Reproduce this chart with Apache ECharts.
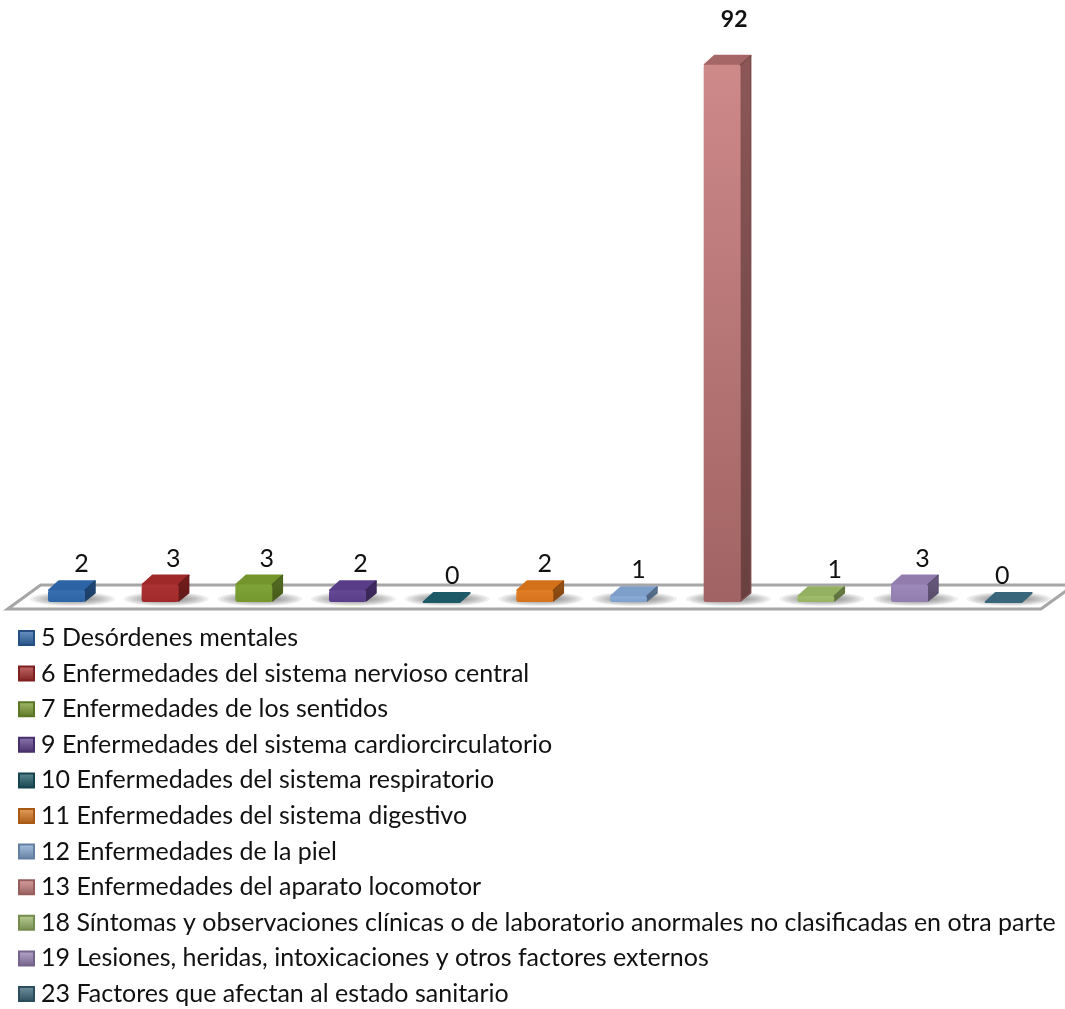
<!DOCTYPE html>
<html><head><meta charset="utf-8">
<style>html,body{margin:0;padding:0;background:#fff}#c{width:1065px;height:1009px}</style>
<script src="https://cdn.jsdelivr.net/npm/echarts@6/dist/echarts.min.js"></script>
</head><body><div id="c"></div>
<script>
const categories = [
  "5 Desórdenes mentales",
  "6 Enfermedades del sistema nervioso central",
  "7 Enfermedades de los sentidos",
  "9 Enfermedades del sistema cardiorcirculatorio",
  "10 Enfermedades del sistema respiratorio",
  "11 Enfermedades del sistema digestivo",
  "12 Enfermedades de la piel",
  "13 Enfermedades del aparato locomotor",
  "18 Síntomas y observaciones clínicas o de laboratorio anormales no clasificadas en otra parte",
  "19 Lesiones, heridas, intoxicaciones y otros factores externos",
  "23 Factores que afectan al estado sanitario"
];
const values = [2, 3, 3, 2, 0, 2, 1, 92, 1, 3, 0];
const colors = ["#2f69ae","#a92b2b","#7b9f30","#5f4090","#1c5a68","#e0781c","#85a9d6","#c97c7c","#9dbb68","#9a84b8","#39667a"];
const labelNudge = [15, 13, 13, 13, 11, 10, 10, 12, 19, 13, -1];
const font = "Lato";
const DX = 11, DY = 10;

function shade(hex, f) {
  const n = parseInt(hex.slice(1), 16);
  const c = [n >> 16, (n >> 8) & 255, n & 255].map(v => Math.round(f > 1 ? v + (255 - v) * (f - 1) : v * f));
  return `rgb(${c[0]},${c[1]},${c[2]})`;
}
function grad(x0, y0, x1, y1, a, b) {
  return { type: "linear", x: x0, y: y0, x2: x1, y2: y1, colorStops: [{ offset: 0, color: a }, { offset: 1, color: b }] };
}

function renderFloor(params, api) {
  const band = api.size([1, 0])[0];
  const p0 = api.coord([0, 0]);
  const pN = api.coord([categories.length - 1, 0]);
  const lx = p0[0] - band / 2, rx = pN[0] + band / 2, y = p0[1];
  return {
    type: "polygon", silent: true,
    shape: { points: [[lx - 12, y + 7], [lx + 21, y - 17], [rx + 24, y - 17], [rx - 9, y + 7]] },
    style: { fill: "#ffffff", stroke: "#a6a6a6", lineWidth: 3, lineJoin: "miter" }
  };
}

function renderBar(params, api) {
  const i = api.value(0), v = api.value(1);
  const base = api.coord([i, 0]), top = api.coord([i, v]);
  const w = api.size([1, 0])[0] * 0.395;
  const l = base[0] - w / 2, r = base[0] + w / 2, y0 = base[1], y1 = top[1];
  const c = colors[params.seriesIndex - 1];
  const tall = y0 - y1 > 40;
  const kids = [];
  for (let k = 0; k < 8; k++) {
    kids.push({ type: "ellipse", silent: true,
      shape: { cx: base[0] + 6, cy: y0 - 3, rx: w * (1.15 - k * 0.09), ry: 7 - k * 0.7 },
      style: { fill: "rgba(85,85,85,0.09)" } });
  }
  const topFill = v === 0 ? c : shade(c, tall ? 0.82 : 0.94);
  kids.push({ type: "polygon", shape: { points: [[l + 1, y1], [l + DX, y1 - DY + 1], [r + DX - 1, y1 - DY + 1], [r, y1]] },
    style: { fill: topFill, stroke: topFill, lineWidth: 2, lineJoin: "round" } });
  if (v > 0) {
    const sideStroke = shade(c, 0.62);
    kids.push({ type: "polygon", shape: { points: [[r, y1], [r + DX - 1, y1 - DY + 1], [r + DX - 1, y0 - DY + 1], [r, y0 - 1]] },
      style: { fill: grad(0, 0, 0, 1, shade(c, 0.7), shade(c, tall ? 0.52 : 0.56)), stroke: sideStroke, lineWidth: 1.5, lineJoin: "round" } });
    kids.push({ type: "rect", shape: { x: l, y: y1, width: w, height: y0 - y1, r: 2.5 },
      style: { fill: grad(0, 0, 0, 1, shade(c, tall ? 1.1 : 1.04), shade(c, tall ? 0.8 : 0.95)) } });
  }
  const big = v > 10;
  kids.push({ type: "text", style: {
    text: String(v), x: base[0] + labelNudge[i], y: y1 - DY - (big ? 35 : 16),
    align: "center", verticalAlign: "middle", fill: "#111",
    font: `${big ? "bold " : ""}${big ? 23 : 25}px ${font}` } });
  return { type: "group", children: kids };
}

const floorSeries = {
  type: "custom", name: "floor", silent: true, z: 1,
  renderItem: renderFloor, encode: { x: 0, y: 1 }, data: [[0, 0]], clip: false
};
const barSeries = categories.map((name, i) => ({
  type: "custom", name, z: 2 + i, clip: false,
  itemStyle: { color: grad(0, 0, 0, 1, shade(colors[i], 1.3), shade(colors[i], 0.75)), borderColor: shade(colors[i], 0.75), borderWidth: 0.6 },
  renderItem: renderBar, encode: { x: 0, y: 1 },
  data: [[i, values[i]]]
}));

const chart = echarts.init(document.getElementById("c"), null, { renderer: "canvas" });
chart.setOption({
  animation: false,
  backgroundColor: "#fff",
  grid: { left: 19.65, right: 15, top: 18, bottom: 407 },
  xAxis: { type: "category", data: categories, show: false },
  yAxis: { type: "value", min: 0, max: 100, show: false },
  legend: {
    orient: "vertical", left: 18, top: 625, padding: 0,
    data: categories, icon: "rect", itemWidth: 15, itemHeight: 14, itemGap: 9.6,
    selectedMode: false,
    textStyle: { fontFamily: font, fontSize: 25, color: "#111", padding: [0, 0, 0, 2], lineHeight: 26 }
  },
  series: [floorSeries].concat(barSeries)
});
</script></body></html>
